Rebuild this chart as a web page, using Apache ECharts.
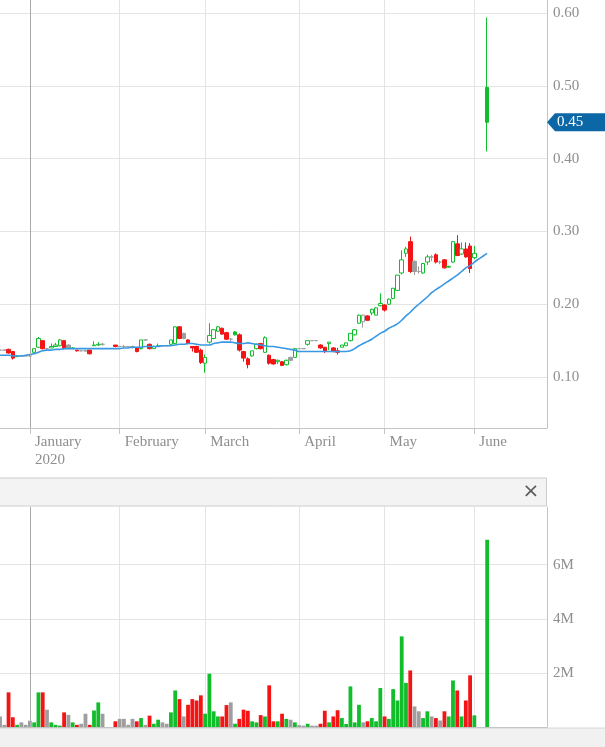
<!DOCTYPE html>
<html>
<head>
<meta charset="utf-8">
<script src="https://cdn.jsdelivr.net/npm/echarts@6/dist/echarts.min.js"></script>
<style>
	html, body { margin: 0; padding: 0; background: #fff; }
	#chart { width: 605px; height: 747px; }
</style>
</head>
<body>
<div id="chart"></div>
<script>
const monthNames = ['January', 'February', 'March', 'April', 'May', 'June', 'July', 'August', 'September', 'October', 'November', 'December'];

// trading days shown on the axis, per month
const tradingDays = [
	['2019-12', [20, 23, 24, 26, 27, 30, 31]],
	['2020-01', [2, 3, 6, 7, 8, 9, 10, 13, 14, 15, 16, 17, 21, 22, 23, 24, 27, 28, 29, 30, 31]],
	['2020-02', [3, 4, 5, 6, 7, 10, 11, 12, 13, 14, 17, 18, 19, 20, 21, 24, 25, 26, 27, 28]],
	['2020-03', [2, 3, 4, 5, 6, 9, 10, 11, 12, 13, 16, 17, 18, 19, 20, 23, 24, 25, 26, 27, 30, 31]],
	['2020-04', [1, 2, 3, 6, 7, 8, 9, 14, 15, 16, 17, 20, 21, 22, 23, 24, 27, 28, 29, 30]],
	['2020-05', [1, 4, 5, 6, 7, 8, 11, 12, 13, 14, 15, 18, 19, 20, 21, 22, 25, 26, 27, 28, 29]],
	['2020-06', [1, 2, 3, 4, 5, 8, 9, 10, 11, 12, 15, 16, 17, 18, 19, 22, 23, 24]],
];

// price data from 2019-12-20 on (null = no trade that day)
const opens = [
	.137, .137, .138, .135, .128, .129, .129, .129, .134, .141, .150, .139, .140, .142, .143, .150, .144, .139, .137, .136,
	.136, .137, .143, .144, .145, null, null, .144, .142, .142, .142, .142, .140, .139, .151, .145, .139, .142, .143, .143,
	.145, .146, .169, .160, .151, .142, .142, .137, .119, .148, .153, .163, .167, .161, .152, .162, .158, .135, .125, .129,
	.139, .146, .134, .130, .124, .121, .121, .117, .127, .127, .139, .139, .145, .150, .150, .144, .141, .146, .140, .136,
	.141, .143, .150, .158, .174, .176, .184, .188, .185, .198, .199, .200, .208, .219, .243, .270, .286, .259, .245, .243,
	.258, .265, .268, .258, .261, .251, .258, .283, .269, .276, .280, .264, null, null, .498,
];
const closes = [
	.137, .137, .133, .126, .129, .129, .129, .129, .139, .153, .139, .139, .142, .144, .151, .139, .139, .140, .136, .136,
	.136, .132, .144, .145, .145, null, null, .142, .142, .142, .142, .142, .135, .151, .151, .139, .142, .143, .143, .143,
	.151, .169, .153, .153, .146, .140, .134, .120, .127, .157, .165, .169, .159, .152, .152, .158, .137, .126, .117, .136,
	.145, .139, .154, .119, .118, .123, .116, .123, .123, .139, .139, .139, .150, .150, .150, .140, .135, .148, .135, .134,
	.144, .147, .160, .165, .185, .185, .178, .193, .195, .201, .192, .207, .222, .240, .261, .276, .245, .245, .245, .256,
	.265, .265, .258, .258, .250, .252, .286, .267, .276, .265, .249, .270, null, null, .450,
];
const lows = [
	.137, .137, .132, .124, .128, .129, .129, .128, .133, .140, .138, .137, .140, .142, .142, .138, .139, .139, .135, .136,
	.135, .131, .143, .143, .143, null, null, .141, .142, .140, .142, .139, .134, .138, .150, .138, .139, .142, .143, .143,
	.144, .145, .152, .152, .145, .135, .133, .118, .106, .146, .152, .162, .158, .151, .149, .157, .135, .121, .112, .128,
	.138, .138, .133, .117, .117, .118, .115, .116, .122, .127, .139, .139, .143, .150, .150, .139, .133, .137, .134, .131,
	.141, .143, .149, .157, .173, .168, .177, .185, .185, .197, .190, .199, .207, .218, .241, .265, .243, .240, .242, .242,
	.254, .259, .256, .255, .249, .250, .257, .266, .268, .264, .243, .262, null, null, .410,
];
const highs = [
	.137, .137, .139, .135, .130, .129, .129, .131, .139, .155, .151, .140, .146, .147, .152, .151, .145, .141, .137, .136,
	.137, .137, .149, .148, .147, null, null, .144, .142, .144, .142, .143, .141, .151, .152, .146, .143, .146, .143, .143,
	.151, .170, .170, .161, .152, .142, .143, .139, .131, .174, .166, .170, .168, .162, .154, .163, .160, .136, .127, .136,
	.146, .147, .156, .131, .125, .124, .122, .124, .128, .140, .139, .139, .150, .150, .150, .145, .141, .148, .141, .140,
	.144, .147, .160, .166, .186, .186, .185, .194, .196, .215, .200, .208, .222, .240, .274, .279, .293, .260, .252, .256,
	.268, .268, .270, .260, .262, .253, .287, .295, .285, .285, .284, .280, null, null, .594,
];
// volume, millions of shares
const volumes = [
	0.39, 0.08, 1.28, 0.36, 0.08, 0.17, 0.08, 0.23, 0.17, 1.28, 1.28, 0.64, 0.17, 0.08, 0.05, 0.54, 0.45, 0.17, 0.08, 0.12,
	0.49, 0.08, 0.61, 0.91, 0.49, null, null, 0.21, 0.30, 0.30, 0.08, 0.30, 0.21, 0.33, 0.08, 0.42, 0.12, 0.27, 0.17, 0.12,
	0.54, 1.35, 1.03, 0.39, 0.82, 1.03, 0.98, 1.17, 0.49, 1.97, 0.58, 0.39, 0.39, 0.81, 0.91, 0.12, 0.30, 0.64, 0.60, 0.21,
	0.17, 0.44, 0.39, 1.54, 0.21, 0.21, 0.49, 0.30, 0.27, 0.17, 0.07, 0.05, 0.12, 0.05, 0.05, 0.12, 0.60, 0.17, 0.39, 0.62,
	0.33, 0.11, 1.50, 0.17, 0.82, 0.17, 0.21, 0.33, 0.21, 1.44, 0.39, 0.30, 1.40, 0.98, 3.35, 1.63, 2.09, 0.76, 0.58, 0.33,
	0.58, 0.39, 0.33, 0.24, 0.58, 0.39, 1.72, 1.35, 0.39, 0.98, 1.91, 0.43, null, null, 6.92,
];
// moving average line
const maValues = [
	.130, .130, .130, .129, .129, .129, .130, .131, .132, .134, .136, .137, .137, .138, .138, .139, .139, .139, .139, .139,
	.139, .139, .139, .139, .139, .139, .139, .139, .139, .140, .140, .141, .141, .141, .142, .142, .142, .142, .143, .143,
	.143, .144, .145, .145, .146, .146, .145, .144, .144, .144, .146, .147, .148, .148, .148, .147, .146, .146, .147, .146,
	.145, .144, .143, .142, .142, .141, .140, .139, .138, .137, .135, .135, .135, .135, .135, .135, .135, .135, .135, .135,
	.135, .135, .136, .139, .143, .146, .149, .152, .156, .160, .163, .167, .170, .173, .178, .184, .189, .195, .200, .205,
	.210, .216, .220, .224, .228, .232, .236, .240, .245, .250, .253, .258, .262, .266, .270,
];
const priceTicks = [0.1, 0.2, 0.3, 0.4, 0.5, 0.6];
const volumeTicks = [2, 4, 6];

const UP = '#12bd2c';
const DOWN = '#f31515';
const FLAT = '#9e9e9e';
const GRID_LINE = '#e4e4e4';
const AXIS_LINE = '#c4c4c4';
const TEXT = '#8e8e8e';
const SERIF = 'Liberation Serif';

let categories = [];
tradingDays.forEach(([ym, days]) => {
	days.forEach((d) => {
		categories.push(ym + '-' + String(d).padStart(2, '0'));
	});
});

function isMonthStart(index) {
	return index > 0 && categories[index].slice(0, 7) !== categories[index - 1].slice(0, 7);
}

let candleData = [];
let volumeData = [];
let maData = [];
let prevClose = null;
let lastClose = null;

categories.forEach((day, k) => {
	maData.push(k < maValues.length ? maValues[k] : '-');
	if (k >= opens.length || opens[k] == null) {
		candleData.push('-');
		volumeData.push('-');
		return;
	}
	let o = opens[k], c = closes[k];
	let ref = prevClose == null ? o : prevClose;
	let col = c > ref ? UP : c < ref ? DOWN : FLAT;
	// hollow body when close > open, filled otherwise; colour follows previous close
	let fill = c < o ? col : '#fff';
	candleData.push({
		value: [o, c, lows[k], highs[k]],
		itemStyle: { color: fill, color0: fill, borderColor: col, borderColor0: col, borderColorDoji: col },
	});
	volumeData.push({ value: volumes[k], itemStyle: { color: col } });
	prevClose = c;
	lastClose = c;
});

const janLine = {
	silent: true,
	symbol: ['none', 'none'],
	label: { show: false },
	lineStyle: { color: '#a9a9a9', width: 1, type: 'solid' },
	data: [{ xAxis: '2020-01-02' }],
};

var chartDom = document.getElementById('chart');
var myChart = echarts.init(chartDom);
var option = {
	animation: false,
	grid: [
		{ left: 0, right: 58, top: 0, height: 428 },
		{ left: 0, right: 58, top: 507, height: 220 },
	],
	xAxis: [
		{
			type: 'category',
			gridIndex: 0,
			data: categories,
			boundaryGap: false,
			axisLine: { lineStyle: { color: AXIS_LINE } },
			axisTick: { interval: isMonthStart, length: 6, lineStyle: { color: AXIS_LINE } },
			splitLine: { show: true, interval: isMonthStart, lineStyle: { color: GRID_LINE } },
			axisLabel: {
				interval: isMonthStart,
				align: 'left',
				padding: [0, 0, 0, 5],
				margin: 5,
				lineHeight: 18,
				color: TEXT,
				fontSize: 15,
				fontFamily: SERIF,
				formatter: (v) => {
					let m = parseInt(v.slice(5, 7)) - 1;
					return m === 0 ? monthNames[m] + '\n' + v.slice(0, 4) : monthNames[m];
				},
			},
		},
		{
			type: 'category',
			gridIndex: 1,
			data: categories,
			boundaryGap: false,
			axisLine: { lineStyle: { color: AXIS_LINE } },
			axisTick: { show: false },
			axisLabel: { show: false },
			splitLine: { show: true, interval: isMonthStart, lineStyle: { color: GRID_LINE } },
		},
	],
	yAxis: [
		{
			type: 'value',
			gridIndex: 0,
			position: 'right',
			min: 0.03,
			max: 0.618,
			axisLine: { show: true, lineStyle: { color: AXIS_LINE } },
			axisTick: { show: false, customValues: priceTicks },
			splitLine: { lineStyle: { color: GRID_LINE } },
			axisLabel: {
				customValues: priceTicks,
				margin: 6,
				color: TEXT,
				fontSize: 15,
				fontFamily: SERIF,
				formatter: (v) => v.toFixed(2),
			},
		},
		{
			type: 'value',
			gridIndex: 1,
			position: 'right',
			min: 0,
			max: 8.13,
			axisLine: { show: true, lineStyle: { color: AXIS_LINE } },
			axisTick: { show: false, customValues: volumeTicks },
			splitLine: { lineStyle: { color: GRID_LINE } },
			axisLabel: {
				customValues: volumeTicks,
				margin: 6,
				color: TEXT,
				fontSize: 15,
				fontFamily: SERIF,
				formatter: (v) => v + 'M',
			},
		},
	],
	series: [
		{
			type: 'candlestick',
			xAxisIndex: 0,
			yAxisIndex: 0,
			barWidth: 4,
			itemStyle: { borderWidth: 1 },
			data: candleData,
			markPoint: {
				silent: true,
				symbol: 'path://M0,9L8,0L60,0L60,18L8,18Z',
				symbolSize: [60, 18],
				symbolOffset: [30, 0],
				symbolKeepAspect: false,
				itemStyle: { color: '#0c67a6' },
				label: {
					show: true,
					position: 'inside',
					offset: [-7, 0],
					color: '#fff',
					fontSize: 15,
					fontFamily: SERIF,
					formatter: (p) => p.value.toFixed(2),
				},
				data: [{ coord: [categories[categories.length - 1], lastClose], value: lastClose }],
			},
		},
		{
			type: 'line',
			xAxisIndex: 0,
			yAxisIndex: 0,
			data: maData,
			symbol: 'none',
			smooth: 0.3,
			lineStyle: { color: '#3a98e2', width: 1.6 },
			markLine: janLine,
		},
		{
			type: 'bar',
			xAxisIndex: 1,
			yAxisIndex: 1,
			barWidth: 3.8,
			data: volumeData,
			markLine: janLine,
		},
	],
	graphic: [
		{
			type: 'rect',
			shape: { x: -1, y: 478, width: 547.5, height: 28 },
			style: { fill: '#f3f3f3', stroke: '#cdcdcd', lineWidth: 1 },
		},
		{
			type: 'text',
			x: 531,
			y: 492,
			style: { text: '×', fontSize: 20, fontFamily: 'DejaVu Sans', fill: '#5a5a5a', textAlign: 'center', textVerticalAlign: 'middle' },
		},
		{
			type: 'rect',
			shape: { x: -1, y: 728, width: 607, height: 20 },
			style: { fill: '#f1f1f1', stroke: '#d8d8d8', lineWidth: 1 },
		},
	],
};
option && myChart.setOption(option);
</script>
</body>
</html>
